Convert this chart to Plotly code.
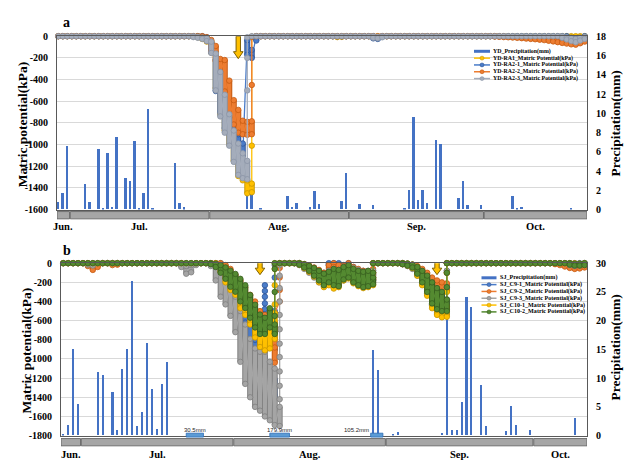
import pandas as pd
import plotly.graph_objects as go

W, H = 636, 465
YEAR = 2021
NOON = pd.Timedelta(hours=12)          # daily values are centred on mid-day
DAY_MS = 86400000

# ---------------------------------------------------------------- panel a: YD
YD_FIRST, YD_LAST = "06-28", "10-23"

yd_rain_days = ["06-28", "06-29", "06-30", "07-04", "07-05", "07-07", "07-08", "07-09",
                "07-10", "07-11", "07-13", "07-14", "07-15", "07-16", "07-17", "07-18",
                "07-19", "07-24", "07-25", "07-26", "08-09", "08-10", "08-12", "08-18",
                "08-19", "08-20", "08-23", "08-24", "08-25", "08-30", "08-31", "09-03",
                "09-06", "09-13", "09-14", "09-15", "09-16", "09-17", "09-18", "09-20",
                "09-21", "09-25", "09-26", "09-27", "09-30", "10-07", "10-08", "10-09",
                "10-20"]
yd_rain_mm = [0.74, 1.75, 6.57, 2.6, 0.81, 6.24, 0.1, 5.86,
              0.24, 7.55, 3.24, 2.93, 7.1, 0.15, 1.72, 10.4,
              0.05, 4.85, 0.64, 0.2, 2.2, 2.5, 0.1, 1.35,
              0.25, 0.64, 0.2, 1.9, 0.55, 0.9, 3.77, 0.6,
              0.45, 0.1, 2.0, 9.6, 1.0, 2.0, 0.7, 7.2,
              6.8, 1.2, 3.0, 0.5, 0.5, 1.35, 0.1, 0.25,
              0.05]

# Matric potential (kPa).  *_span: densest run of readings on a day (first, last);
# *_pts: single readings logged after that run.  Days not listed read 0 kPa.
ra1_span = {"07-29": (0, -10), "07-30": (-10, -25), "07-31": (-20, -50), "08-01": (-50, -150),
            "08-02": (-150, -480), "08-03": (-320, -720), "08-04": (-520, -870),
            "08-05": (-700, -1000), "08-06": (-860, -1150), "08-07": (-980, -1290),
            "08-08": (-1240, -1330), "08-09": (-1330, -1450), "08-10": (-1360, -1440),
            "08-29": (0, -8), "08-30": (0, -6)}
ra1_pts = {"08-10": (-1010, -5)}

ra2_1_span = {"07-30": (0, -10), "07-31": (-10, -40), "08-01": (-60, -147), "08-02": (-216, -506),
              "08-03": (-400, -700), "08-04": (-600, -850), "08-05": (-750, -900),
              "08-06": (-830, -950), "08-07": (-905, -1000), "08-08": (-990, -1100),
              "08-09": (-36, -171), "08-10": (-126, -200), "08-11": (0, -40),
              "09-06": (0, -20), "09-07": (-10, -25),
              "10-19": (0, -30), "10-20": (-15, -50), "10-21": (-25, -60), "10-22": (-15, -40)}
ra2_1_pts = {}

ra2_2_span = {"07-30": (0, -10), "07-31": (-10, -40), "08-01": (-35, -140), "08-02": (-90, -230),
              "08-03": (-210, -330), "08-04": (-220, -510), "08-05": (-410, -750),
              "08-06": (-590, -815), "08-07": (-680, -890), "08-08": (-780, -905),
              "08-09": (-790, -910), "08-10": (-785, -905),
              "10-03": (0, -3), "10-04": (-2, -5), "10-05": (-3, -8), "10-06": (-5, -10),
              "10-07": (-6, -12), "10-08": (-8, -15), "10-09": (-10, -18), "10-10": (-12, -22),
              "10-11": (-14, -25), "10-12": (-16, -28), "10-13": (-18, -32), "10-14": (-20, -36),
              "10-15": (-24, -42), "10-16": (-28, -48), "10-17": (-32, -55), "10-18": (-36, -62),
              "10-19": (-40, -68), "10-20": (-45, -75), "10-21": (-48, -78), "10-22": (-40, -65),
              "10-23": (-30, -50)}
ra2_2_pts = {"08-10": (-450, -5)}

ra2_3_span = {"07-28": (0, -8), "07-29": (-5, -15), "07-30": (-12, -25), "07-31": (-20, -45),
              "08-01": (-50, -155), "08-02": (-160, -500), "08-03": (-330, -740),
              "08-04": (-540, -890), "08-05": (-720, -1010), "08-06": (-870, -1160),
              "08-07": (-990, -1280), "08-08": (-1080, -1310), "08-09": (-1150, -1320),
              "09-06": (0, -15), "09-07": (-5, -20), "09-08": (0, -10),
              "10-18": (0, -15), "10-19": (-10, -30), "10-20": (-20, -45), "10-21": (-25, -55),
              "10-22": (-15, -40), "10-23": (-5, -25)}
ra2_3_pts = {"08-09": (-500, -200, -10)}

yd_arrow_days = ["08-07"]

# ---------------------------------------------------------------- panel b: SJ
SJ_FIRST, SJ_LAST = "06-27", "10-11"

sj_rain_days = ["06-27", "06-28", "06-29", "06-30", "07-04", "07-05", "07-07", "07-08",
                "07-09", "07-10", "07-11", "07-12", "07-13", "07-14", "07-15", "07-16",
                "07-17", "07-18", "08-29", "08-30", "09-02", "09-03", "09-12", "09-13",
                "09-14", "09-15", "09-16", "09-17", "09-18", "09-20", "09-21", "09-25",
                "09-26", "09-27", "09-30", "10-09"]
sj_rain_mm = [0.1, 1.8, 15.0, 5.4, 11.0, 10.5, 7.6, 0.97,
              11.6, 15.1, 26.9, 1.65, 4.1, 16.1, 8.0, 1.14,
              8.9, 12.85, 14.9, 11.3, 0.1, 0.6, 0.4, 21.5,
              0.9, 0.9, 5.8, 24.0, 22.4, 8.8, 1.65, 0.7,
              5.1, 1.8, 0.9, 3.06]

c9_1_span = {"07-29": (0, -30), "07-30": (-30, -110), "07-31": (-110, -200), "08-01": (-180, -315),
             "08-02": (-300, -435), "08-03": (-430, -620), "08-04": (-600, -900),
             "08-05": (-800, -1150), "08-06": (-1000, -1350), "08-08": (-1250, -1400),
             "08-09": (-1215, -1385),
             "08-14": (0, -15), "08-15": (-10, -50), "08-16": (-30, -90), "08-17": (-50, -140),
             "08-18": (-80, -190), "08-19": (-100, -220), "08-20": (0, -20), "08-21": (0, -25),
             "08-22": (0, -40), "08-23": (-20, -120), "08-24": (0, -60), "08-25": (-40, -160),
             "08-26": (-70, -200), "08-27": (-80, -230), "08-28": (-90, -240), "08-29": (-100, -180),
             "09-04": (0, -10), "09-05": (-5, -25), "09-06": (-15, -50), "09-07": (-40, -120),
             "09-08": (-90, -220), "09-09": (-140, -320), "09-10": (-210, -430),
             "09-11": (-300, -520), "09-12": (-350, -540), "09-13": (-380, -530),
             "10-08": (0, -10), "10-09": (0, -15)}
c9_1_pts = {"08-07": (-230, -290, -350, -420, -480, -540, -600, -660, -730, -790, -850,
                     -920, -980, -1040, -1100, -1170, -1230, -1290, -1350, -1417),
            "08-09": (-900, -500, -150, -20), "08-29": (-80, 0), "09-13": (-250, -80, 0)}

c9_2_span = {"07-02": (0, -30), "07-03": (-20, -70), "07-04": (-10, -40), "07-07": (0, -20),
             "07-08": (0, -15), "07-21": (0, -20), "07-22": (-10, -45), "07-23": (-10, -40),
             "07-29": (0, -20), "07-30": (-20, -80), "07-31": (-60, -160), "08-01": (-120, -230),
             "08-02": (-180, -330), "08-03": (-250, -420), "08-04": (-330, -570),
             "08-05": (-400, -620), "08-06": (-500, -680), "08-07": (-540, -760),
             "08-08": (-600, -880), "08-09": (-620, -1040),
             "08-14": (0, -10), "08-15": (-10, -40), "08-16": (-25, -75), "08-17": (-45, -120),
             "08-18": (-70, -170), "08-19": (-100, -210), "08-20": (-20, -80), "08-21": (0, -40),
             "08-22": (-20, -120), "08-23": (-30, -150), "08-24": (0, -80), "08-25": (-40, -160),
             "08-26": (-60, -200), "08-27": (-80, -220), "08-28": (-90, -230), "08-29": (-100, -170),
             "09-04": (0, -10), "09-05": (-5, -25), "09-06": (-15, -50), "09-07": (-30, -90),
             "09-08": (-60, -140), "09-09": (-100, -190), "09-10": (-150, -240),
             "09-11": (-180, -280), "09-12": (-200, -300), "09-13": (-210, -290),
             "10-05": (0, -10), "10-06": (-5, -20), "10-07": (-10, -35), "10-08": (-20, -50),
             "10-09": (-30, -60), "10-10": (-25, -55), "10-11": (-20, -45)}
c9_2_pts = {"08-09": (-880, -700, -520), "08-10": (-400, -280, -150, -50, 0),
            "08-29": (-60, 0), "09-13": (-100, 0)}

c9_3_span = {"07-02": (0, -15), "07-03": (-5, -25), "07-21": (-5, -40), "07-22": (-30, -110),
             "07-23": (-20, -95), "07-24": (0, -20),
             "07-27": (0, -30), "07-28": (-10, -180), "07-29": (-60, -350), "07-30": (-120, -430),
             "07-31": (-230, -550), "08-01": (-350, -720), "08-02": (-500, -1030),
             "08-03": (-640, -1260), "08-04": (-790, -1400), "08-05": (-890, -1500),
             "08-06": (-925, -1540), "08-07": (-925, -1600), "08-08": (-1030, -1640),
             "08-09": (-1100, -1690), "08-10": (-1500, -1700),
             "08-14": (0, -20), "08-15": (-10, -60), "08-16": (-40, -100), "08-17": (-60, -150),
             "08-18": (-90, -200), "08-19": (-120, -240), "08-20": (-80, -200), "08-21": (-60, -220),
             "08-22": (-70, -230), "08-23": (-40, -180), "08-24": (-20, -150), "08-25": (-50, -190),
             "08-26": (-70, -220), "08-27": (-90, -240), "08-28": (-80, -230), "08-29": (-120, -200),
             "09-04": (0, -10), "09-05": (-5, -30), "09-06": (-20, -60), "09-07": (-50, -130),
             "09-08": (-90, -210), "09-09": (-150, -320), "09-10": (-220, -440),
             "09-11": (-300, -500), "09-12": (-380, -470), "09-13": (-380, -480),
             "10-08": (0, -20), "10-09": (-5, -30), "10-10": (-5, -25), "10-11": (0, -20)}
c9_3_pts = {"08-10": (-1420, -1280, -1130, -980, -840, -690, -540, -400, -260, -130, -20),
            "08-29": (-80, 0), "09-13": (-250, -80, 0)}

c10_1_span = {"07-28": (0, -20), "07-29": (-20, -90), "07-30": (-60, -200), "07-31": (-120, -280),
              "08-01": (-200, -330), "08-02": (-330, -470), "08-03": (-430, -540),
              "08-04": (-500, -640), "08-05": (-570, -775), "08-06": (-640, -875),
              "08-07": (-670, -910), "08-08": (-580, -890), "08-09": (-520, -790),
              "08-14": (0, -15), "08-15": (-10, -50), "08-16": (-30, -90), "08-17": (-55, -140),
              "08-18": (-90, -200), "08-19": (-120, -250), "08-20": (-100, -230), "08-21": (-80, -265),
              "08-22": (-80, -250), "08-23": (-50, -180), "08-24": (-30, -160), "08-25": (-60, -210),
              "08-26": (-90, -240), "08-27": (-100, -260), "08-28": (-90, -250), "08-29": (-150, -230),
              "09-04": (0, -10), "09-05": (-5, -25), "09-06": (-15, -50), "09-07": (-40, -130),
              "09-08": (-100, -230), "09-09": (-160, -340), "09-10": (-240, -470),
              "09-11": (-330, -540), "09-12": (-420, -565), "09-13": (-450, -560),
              "10-09": (0, -10), "10-10": (-5, -20), "10-11": (0, -15)}
c10_1_pts = {"08-09": (-430, -230, -60, 0), "08-29": (-100, 0), "09-13": (-300, -100, 0)}

c10_2_span = {"07-27": (0, -10), "07-28": (-5, -40), "07-29": (-20, -100), "07-30": (-44, -163),
              "07-31": (-78, -247), "08-01": (-112, -298), "08-02": (-163, -400),
              "08-03": (-230, -468), "08-04": (-332, -570), "08-05": (-434, -671),
              "08-06": (-536, -739), "08-07": (-570, -739), "08-08": (-470, -671),
              "08-09": (-640, -739),
              "08-14": (0, -15), "08-15": (-10, -45), "08-16": (-30, -80), "08-17": (-50, -130),
              "08-18": (-80, -180), "08-19": (-110, -230), "08-20": (-90, -200), "08-21": (-60, -230),
              "08-22": (-70, -240), "08-23": (-40, -170), "08-24": (-20, -150), "08-25": (-60, -200),
              "08-26": (-80, -230), "08-27": (-90, -250), "08-28": (-80, -240), "08-29": (-150, -220),
              "09-04": (0, -10), "09-05": (-5, -25), "09-06": (-15, -45), "09-07": (-40, -110),
              "09-08": (-80, -200), "09-09": (-130, -300), "09-10": (-200, -420),
              "09-11": (-260, -480), "09-12": (-300, -500), "09-13": (-380, -500),
              "10-08": (0, -15), "10-09": (-5, -25), "10-10": (-5, -25), "10-11": (0, -20)}
c10_2_pts = {"08-09": (-550, -300, -60, 0), "08-29": (-100, 0), "09-13": (-250, -100, 0)}

sj_arrow_days = ["08-06", "09-11"]

# irrigation periods: start, end, amount label
sj_irrigation = [("07-22 12:00", "07-26 00:00", "30.5mm"),
                 ("08-08 12:00", "08-12 12:00", "179.9mm"),
                 ("08-29 00:00", "08-31 12:00", "105.2mm")]

MONTH_NAMES = ["Jun.", "Jul.", "Aug.", "Sep.", "Oct."]
MONTH_STARTS = ["06-01", "07-01", "08-01", "09-01", "10-01", "11-01"]

YD_POT_TICKS = [0, -200, -400, -600, -800, -1000, -1200, -1400, -1600]
SJ_POT_TICKS = [0, -200, -400, -600, -800, -1000, -1200, -1400, -1600, -1800]
YD_RAIN_TICKS = [0, 2, 4, 6, 8, 10, 12, 14, 16, 18]
SJ_RAIN_TICKS = [0, 5, 10, 15, 20, 25, 30]

# ---------------------------------------------------------------- helpers
SERIF = "Liberation Serif"
SANS = "Liberation Sans"
AXIS_LINE = "#595959"
GRID = "#D9D9D9"
RAIN_BLUE = "#4472C4"

YELLOW = ("#FFC000", "#C99700")
BLUE = ("#4A7CC9", "#2F5597")
ORANGE = ("#ED7D31", "#C55A11")
GRAY_A = ("#A5ADBB", "#8A94A6")
GRAY_B = ("#A5A5A5", "#7F7F7F")
GREEN = ("#548A31", "#375E1F")


def day(k):
    return pd.Timestamp(f"{YEAR}-{k}")


def px(x):
    return x / W


def py(y):
    return 1 - y / H


def daily_readings(first, last, span, pts):
    xs, ys, cx, cy = [], [], [], []
    for d in pd.date_range(day(first), day(last), freq="D"):
        key = d.strftime("%m-%d")
        vals = []
        if key in span:
            hi, lo = span[key]
            vals += [hi, lo]
            cx += [d + NOON, d + NOON, None]
            cy += [hi, lo, None]
        vals += list(pts.get(key, ()))
        if not vals:
            vals = [0]
        xs += [d + NOON] * len(vals)
        ys += vals
    return xs, ys, cx, cy


fig = go.Figure()


def add_rain(xa, ya, days, mm):
    fig.add_trace(go.Bar(x=[day(k) + NOON for k in days], y=mm, xaxis=xa, yaxis=ya,
                         width=0.42 * DAY_MS, marker=dict(color=RAIN_BLUE, line=dict(width=0)),
                         showlegend=False, hoverinfo="skip"))


def add_potential(xa, ya, first, last, span, pts, colors):
    fill, edge = colors
    xs, ys, cx, cy = daily_readings(first, last, span, pts)
    fig.add_trace(go.Scatter(x=cx, y=cy, mode="lines", xaxis=xa, yaxis=ya,
                             line=dict(color=edge, width=6), showlegend=False,
                             hoverinfo="skip", cliponaxis=False))
    fig.add_trace(go.Scatter(x=cx, y=cy, mode="lines", xaxis=xa, yaxis=ya,
                             line=dict(color=fill, width=4), showlegend=False,
                             hoverinfo="skip", cliponaxis=False))
    fig.add_trace(go.Scatter(x=xs, y=ys, mode="lines+markers", xaxis=xa, yaxis=ya,
                             line=dict(color=fill, width=1.3),
                             marker=dict(size=5.5, color=fill, line=dict(color=edge, width=0.8)),
                             showlegend=False, hoverinfo="skip", cliponaxis=False))


# panel a traces (rain on the base axis so that it sits beneath the sensor series)
add_rain("x", "y", yd_rain_days, yd_rain_mm)
add_potential("x", "y2", YD_FIRST, YD_LAST, ra1_span, ra1_pts, YELLOW)
add_potential("x", "y2", YD_FIRST, YD_LAST, ra2_1_span, ra2_1_pts, BLUE)
add_potential("x", "y2", YD_FIRST, YD_LAST, ra2_2_span, ra2_2_pts, ORANGE)
add_potential("x", "y2", YD_FIRST, YD_LAST, ra2_3_span, ra2_3_pts, GRAY_A)

# panel b traces
add_rain("x2", "y3", sj_rain_days, sj_rain_mm)
add_potential("x2", "y4", SJ_FIRST, SJ_LAST, c9_1_span, c9_1_pts, BLUE)
add_potential("x2", "y4", SJ_FIRST, SJ_LAST, c9_2_span, c9_2_pts, ORANGE)
add_potential("x2", "y4", SJ_FIRST, SJ_LAST, c9_3_span, c9_3_pts, GRAY_B)
add_potential("x2", "y4", SJ_FIRST, SJ_LAST, c10_1_span, c10_1_pts, YELLOW)
add_potential("x2", "y4", SJ_FIRST, SJ_LAST, c10_2_span, c10_2_pts, GREEN)

# ---------------------------------------------------------------- axes
RANGE_A = [f"{YEAR}-06-28 05:00", f"{YEAR}-10-24 00:15"]
RANGE_B = [f"{YEAR}-06-27 00:50", f"{YEAR}-10-12 00:00"]
tickfont = dict(family=SERIF, size=10, color="black", weight="bold")


def xaxis_style(domain, anchor, rng):
    return dict(domain=domain, anchor=anchor, type="date", range=rng, showticklabels=False,
                showgrid=False, zeroline=False, showline=True, mirror=True,
                linecolor=AXIS_LINE, linewidth=1, ticks="")


def rain_axis(domain, anchor, ticks):
    return dict(domain=domain, anchor=anchor, side="right", range=[0, ticks[-1]],
                tickvals=ticks, ticktext=[str(t) for t in ticks], tickfont=tickfont,
                showgrid=False, zeroline=False, showline=True, linecolor=AXIS_LINE,
                ticks="outside", ticklen=6, tickcolor="rgba(0,0,0,0)")


def pot_axis(overlay, anchor, ticks):
    return dict(overlaying=overlay, anchor=anchor, side="left", range=[ticks[-1], 0],
                tickvals=ticks, ticktext=[str(t) for t in ticks], tickfont=tickfont,
                showgrid=True, gridcolor=GRID, gridwidth=1, zeroline=False, showline=True,
                linecolor=AXIS_LINE, ticks="outside", ticklen=6, tickcolor="rgba(0,0,0,0)")


fig.update_layout(
    width=W, height=H, margin=dict(l=0, r=0, t=0, b=0),
    paper_bgcolor="white", plot_bgcolor="white", showlegend=False, bargap=0,
    xaxis=xaxis_style([px(57), px(587)], "y", RANGE_A),
    yaxis=rain_axis([py(209), py(31)], "x", YD_RAIN_TICKS),
    yaxis2=pot_axis("y", "x", YD_POT_TICKS),
    xaxis2=xaxis_style([px(61), px(587)], "y3", RANGE_B),
    yaxis3=rain_axis([py(441), py(264)], "x2", SJ_RAIN_TICKS),
    yaxis4=pot_axis("y3", "x2", SJ_POT_TICKS),
)

shapes, annotations = [], []


def text(x, y, s, size, family=SERIF, bold=True, angle=0, anchor="center", color="black"):
    annotations.append(dict(x=px(x), y=py(y), xref="paper", yref="paper", text=s, showarrow=False,
                            textangle=angle, xanchor=anchor, yanchor="middle",
                            font=dict(family=family, size=size, color=color,
                                      weight="bold" if bold else "normal")))


# month strip under each panel
def month_strip(xref, rng, y_top, y_bot, y_label):
    lo, hi = pd.Timestamp(rng[0]), pd.Timestamp(rng[1])
    gap = pd.Timedelta(hours=4)
    for name, s, e in zip(MONTH_NAMES, MONTH_STARTS[:-1], MONTH_STARTS[1:]):
        x0, x1 = max(day(s), lo), min(day(e), hi)
        if x0 > lo:
            x0 = x0 + gap
        shapes.append(dict(type="rect", xref=xref, yref="paper", x0=x0, x1=x1,
                           y0=py(y_bot), y1=py(y_top), fillcolor="#A6A6A6",
                           line=dict(color="#595959", width=0.8), layer="above"))
        mid = x0 + (x1 - x0) / 2
        annotations.append(dict(x=mid, y=py(y_label), xref=xref, yref="paper", text=name,
                                showarrow=False, xanchor="center", yanchor="middle",
                                font=dict(family=SERIF, size=10.5, color="black", weight="bold")))


month_strip("x", RANGE_A, 211, 218.5, 226.5)
month_strip("x2", RANGE_B, 444, 451.5, 460)


# block arrows marking the irrigation days
def down_arrow(xref, yref, when, top, head, tip, shaft=2.2, wing=4.8):
    path = (f"M {-shaft},{top} L {shaft},{top} L {shaft},{head} L {wing},{head} "
            f"L 0,{tip} L {-wing},{head} L {-shaft},{head} Z")
    shapes.append(dict(type="path", xref=xref, yref=yref, xsizemode="pixel", ysizemode="pixel",
                       xanchor=day(when) + NOON, yanchor=0, path=path, fillcolor="#FFC000",
                       line=dict(color="#7F6000", width=1), layer="above"))


for k in yd_arrow_days:
    down_arrow("x", "y2", k, 0, -15.5, -22.5)
for k in sj_arrow_days:
    down_arrow("x2", "y4", k, 11, -5, -11.5)

# irrigation bands with their totals
for i, (s, e, label) in enumerate(sj_irrigation):
    x0, x1 = pd.Timestamp(f"{YEAR}-{s}"), pd.Timestamp(f"{YEAR}-{e}")
    shapes.append(dict(type="rect", xref="x2", yref="paper", x0=x0, x1=x1, y0=py(442.5),
                       y1=py(438.5), fillcolor="#5B9BD5", line=dict(color="#2F6DB5", width=0.8),
                       layer="above"))
    last = i == len(sj_irrigation) - 1
    annotations.append(dict(x=x0 if last else x0 + (x1 - x0) / 2, y=py(435.3), xref="x2",
                            yref="paper", text=label, showarrow=False,
                            xanchor="right" if last else "center", yanchor="middle",
                            font=dict(family=SANS, size=6, color="#262626")))

# axis titles and panel letters
text(22.5, 122, "Matric potential(kPa)", 13.5, angle=-90)
text(615, 120.5, "Precipitation(mm)", 13.5, angle=-90)
text(26, 353.5, "Matric potential(kPa)", 13.5, angle=-90)
text(615, 350.5, "Precipitation(mm)", 13.5, angle=-90)
text(66.5, 16.5, "a", 14)
text(67, 251, "b", 14)


# compact legends drawn inside each panel
def legend(entries, x_sym0, x_sym1, y0, step, size):
    for i, (label, colors, is_bar) in enumerate(entries):
        y = y0 + i * step
        fill, edge = colors
        if is_bar:
            shapes.append(dict(type="line", xref="paper", yref="paper", x0=px(x_sym0), x1=px(x_sym1),
                               y0=py(y), y1=py(y), line=dict(color=fill, width=3)))
        else:
            shapes.append(dict(type="line", xref="paper", yref="paper", x0=px(x_sym0), x1=px(x_sym1),
                               y0=py(y), y1=py(y), line=dict(color=fill, width=1.5)))
            xc = (x_sym0 + x_sym1) / 2
            shapes.append(dict(type="circle", xref="paper", yref="paper", x0=px(xc - 2), x1=px(xc + 2),
                               y0=py(y + 2), y1=py(y - 2), fillcolor=fill,
                               line=dict(color=edge, width=0.6)))
        text(x_sym1 + 1, y, label, size, anchor="left")


legend([("YD_Precipitation(mm)", (RAIN_BLUE, RAIN_BLUE), True),
        ("YD-RA1_Matric Potential(kPa)", YELLOW, False),
        ("YD-RA2-1_Matric Potential(kPa)", BLUE, False),
        ("YD-RA2-2_Matric Potential(kPa)", ORANGE, False),
        ("YD-RA2-3_Matric Potential(kPa)", GRAY_A, False)],
       474, 490, 46.5, 7.0, 5.9)
legend([("SJ_Precipitation(mm)", (RAIN_BLUE, RAIN_BLUE), True),
        ("SJ_C9-1_Matric Potential(kPa)", BLUE, False),
        ("SJ_C9-2_Matric Potential(kPa)", ORANGE, False),
        ("SJ_C9-3_Matric Potential(kPa)", GRAY_B, False),
        ("SJ_C10-1_Matric Potential(kPa)", YELLOW, False),
        ("SJ_C10-2_Matric Potential(kPa)", GREEN, False)],
       481.5, 496.5, 279, 7.0, 6.1)

fig.update_layout(shapes=shapes, annotations=annotations)
fig.write_html("out.html")
